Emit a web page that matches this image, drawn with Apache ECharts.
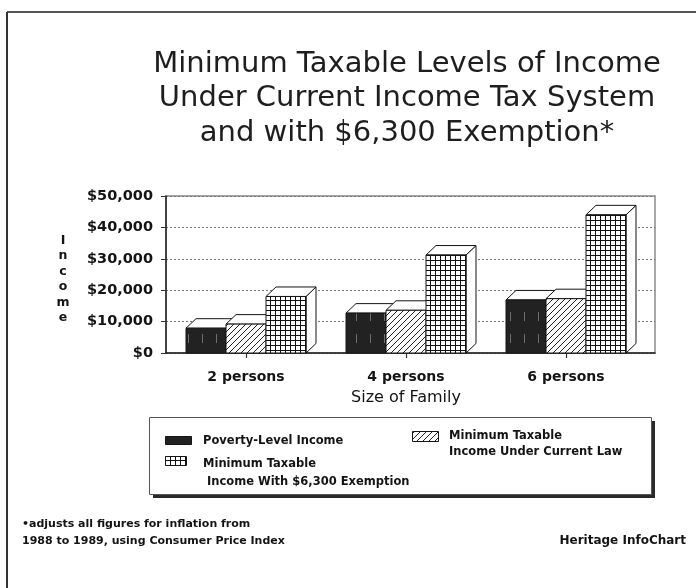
<!DOCTYPE html>
<html>
<head>
<meta charset="utf-8">
<script src="https://cdn.jsdelivr.net/npm/echarts@6/dist/echarts.min.js"></script>
<style>
  html, body { margin: 0; padding: 0; background: #fff; }
  #chart { width: 696px; height: 588px; }
</style>
</head>
<body>
<div id="chart"></div>
<script>
// ---- data ----
const TITLE_LINES = [
  'Minimum Taxable Levels of Income',
  'Under Current Income Tax System',
  'and with $6,300 Exemption*'
];
const CATEGORIES = ['2 persons', '4 persons', '6 persons'];
const SERIES_NAMES = [
  'Poverty-Level Income',
  'Minimum Taxable\nIncome Under Current Law',
  'Minimum Taxable\n Income With $6,300 Exemption'
];
const POVERTY = [7900, 12700, 16900];
const CURRENT_LAW = [9200, 13600, 17300];
const WITH_EXEMPTION = [18000, 31200, 44000];
const Y_MIN = 0;
const Y_MAX = 50000;
const Y_STEP = 10000;
const X_NAME = 'Size of Family';
const Y_NAME = 'Income';
const FOOTNOTE_LINES = [
  '\u2022adjusts all figures for inflation from',
  '1988 to 1989, using Consumer Price Index'
];
const SOURCE = 'Heritage InfoChart';

// ---- fills ----
function makeCanvas(w, h) {
  const c = document.createElement('canvas');
  c.width = w; c.height = h;
  return c;
}
function solidDark() {
  const c = makeCanvas(14, 22);
  const g = c.getContext('2d');
  g.fillStyle = '#222';
  g.fillRect(0, 0, 14, 22);
  g.fillStyle = '#6e6e6e';
  g.fillRect(6, 4, 1, 9);
  return { image: c, repeat: 'repeat' };
}
function diagonalHatch() {
  const s = 6;
  const c = makeCanvas(s, s);
  const g = c.getContext('2d');
  g.fillStyle = '#fff';
  g.fillRect(0, 0, s, s);
  g.strokeStyle = '#222';
  g.lineWidth = 1;
  g.beginPath();
  g.moveTo(-1, s + 1); g.lineTo(s + 1, -1);
  g.moveTo(-1, 1); g.lineTo(1, -1);
  g.moveTo(s - 1, s + 1); g.lineTo(s + 1, s - 1);
  g.stroke();
  return { image: c, repeat: 'repeat' };
}
function squareGrid() {
  const s = 5;
  const c = makeCanvas(s, s);
  const g = c.getContext('2d');
  g.fillStyle = '#fff';
  g.fillRect(0, 0, s, s);
  g.fillStyle = '#111';
  g.fillRect(0, 0, 1, s);
  g.fillRect(0, 0, s, 1);
  return { image: c, repeat: 'repeat' };
}
const FILLS = [solidDark(), diagonalHatch(), squareGrid()];

// ---- 3D box bars ----
const BAR_FRAC = 0.25;   // bar width as a share of the category band
const DEPTH_X = 10;
const DEPTH_Y = 9.5;
const EDGE = '#151515';

function renderBox(params, api) {
  const k = params.seriesIndex;
  const cat = api.value(0);
  const val = api.value(1);
  const top = api.coord([cat, val]);
  const base = api.coord([cat, 0]);
  const band = api.size([1, 0])[0];
  const w = band * BAR_FRAC;
  const x0 = top[0] + (k - 1.5) * w;
  const x1 = x0 + w;
  const yt = top[1];
  const yb = base[1];
  const lineStyle = { stroke: EDGE, lineWidth: 1 };
  return {
    type: 'group',
    children: [
      {
        type: 'polygon',
        shape: { points: [[x1, yt], [x1 + DEPTH_X, yt - DEPTH_Y], [x1 + DEPTH_X, yb - DEPTH_Y], [x1, yb]] },
        style: Object.assign({ fill: '#fff' }, lineStyle)
      },
      {
        type: 'polygon',
        shape: { points: [[x0, yt], [x0 + DEPTH_X, yt - DEPTH_Y], [x1 + DEPTH_X, yt - DEPTH_Y], [x1, yt]] },
        style: Object.assign({ fill: '#fff' }, lineStyle)
      },
      {
        type: 'rect',
        shape: { x: x0, y: yt, width: w, height: yb - yt },
        style: Object.assign({ fill: FILLS[k] }, lineStyle)
      }
    ]
  };
}

const VALUES = [POVERTY, CURRENT_LAW, WITH_EXEMPTION];
const series = VALUES.map((vals, k) => ({
  type: 'custom',
  name: SERIES_NAMES[k],
  xAxisIndex: 1,
  yAxisIndex: 1,
  renderItem: renderBox,
  encode: { x: 0, y: 1 },
  data: vals.map((v, i) => [i, v]),
  z: 3
}));

// ---- text styles ----
const BOLD = 'DejaVu Sans';
const INK = '#141414';

// ---- legend (drawn as graphic) ----
const LEGEND_SLOTS = [
  { sx: 165, sy: 436, sw: 26, sh: 8, tx: 203, ty: 433, lh: 16 },
  { sx: 412, sy: 431, sw: 26, sh: 10, tx: 449, ty: 428, lh: 16 },
  { sx: 165, sy: 456, sw: 21, sh: 9, tx: 203, ty: 455, lh: 18 }
];
const legendGraphics = [
  { type: 'rect', shape: { x: 153, y: 421, width: 502, height: 77 }, style: { fill: '#2a2a2a' }, z: 10 },
  { type: 'rect', shape: { x: 149.5, y: 417.5, width: 502, height: 77 }, style: { fill: '#fff', stroke: '#555', lineWidth: 1 }, z: 11 }
];
SERIES_NAMES.forEach((name, k) => {
  const s = LEGEND_SLOTS[k];
  legendGraphics.push({
    type: 'rect',
    shape: { x: s.sx + 0.5, y: s.sy + 0.5, width: s.sw, height: s.sh },
    style: { fill: FILLS[k], stroke: EDGE, lineWidth: 1 },
    z: 12
  });
  legendGraphics.push({
    type: 'text',
    x: s.tx, y: s.ty,
    style: {
      text: name, fill: INK, font: 'bold 11.5px "' + BOLD + '"',
      lineHeight: s.lh, textAlign: 'left', textVerticalAlign: 'top'
    },
    z: 12
  });
});

const chart = echarts.init(document.getElementById('chart'), null, { renderer: 'canvas' });

chart.setOption({
  backgroundColor: '#fff',
  animation: false,
  grid: [
    { left: 166, right: 41, top: 196, bottom: 235, show: true, borderColor: '#8a8a8a', borderWidth: 1.5, backgroundColor: 'transparent' },
    { left: 166, right: 50, top: 196, bottom: 235 }
  ],
  xAxis: [
    {
      gridIndex: 0, type: 'value', min: 0, max: 1,
      axisLine: { show: true, lineStyle: { color: '#222', width: 1.5 } },
      axisTick: { show: false }, axisLabel: { show: false }, splitLine: { show: false }
    },
    {
      gridIndex: 1, type: 'category', data: CATEGORIES,
      axisLine: { show: false },
      axisTick: { show: true, alignWithLabel: true, length: 5, lineStyle: { color: '#333', width: 1.2 } },
      axisLabel: { margin: 17, fontFamily: BOLD, fontWeight: 'bold', fontSize: 14, color: INK },
      name: X_NAME, nameLocation: 'middle', nameGap: 45,
      nameTextStyle: { fontFamily: BOLD, fontSize: 16, color: INK, verticalAlign: 'middle' }
    }
  ],
  yAxis: [
    {
      gridIndex: 0, type: 'value', min: Y_MIN, max: Y_MAX, interval: Y_STEP,
      axisLine: { show: true, lineStyle: { color: '#222', width: 1.5 } },
      axisTick: { show: true, length: 5, lineStyle: { color: '#333' } },
      axisLabel: {
        margin: 13, fontFamily: BOLD, fontWeight: 'bold', fontSize: 14.5, color: INK,
        formatter: v => '$' + v.toLocaleString('en-US')
      },
      splitLine: { show: true, lineStyle: { color: '#777', type: [2, 2], width: 1 } }
    },
    { gridIndex: 1, type: 'value', min: Y_MIN, max: Y_MAX, interval: Y_STEP, show: false }
  ],
  series: series,
  graphic: [
    // page frame
    { type: 'line', shape: { x1: 7, y1: 12, x2: 696, y2: 12 }, style: { stroke: '#555', lineWidth: 2 } },
    { type: 'line', shape: { x1: 7, y1: 12, x2: 7, y2: 588 }, style: { stroke: '#333', lineWidth: 2 } },
    // title
    ...TITLE_LINES.map((t, i) => ({
      type: 'text', x: 407, y: 64 + i * 34.5,
      style: { text: t, fill: '#1e1e1e', font: '29px "DejaVu Sans"', textAlign: 'center', textVerticalAlign: 'middle' }
    })),
    // vertical axis name
    {
      type: 'text', x: 63, y: 279,
      style: {
        text: Y_NAME.split('').join('\n'), fill: INK, font: 'bold 12.5px "' + BOLD + '"',
        lineHeight: 15.5, textAlign: 'center', textVerticalAlign: 'middle'
      }
    },
    ...legendGraphics,
    // footnote and source
    {
      type: 'text', x: 22, y: 516,
      style: { text: FOOTNOTE_LINES.join('\n'), fill: INK, font: 'bold 11px "' + BOLD + '"', lineHeight: 17, textAlign: 'left', textVerticalAlign: 'top' }
    },
    {
      type: 'text', x: 686, y: 541,
      style: { text: SOURCE, fill: INK, font: 'bold 12px "' + BOLD + '"', textAlign: 'right', textVerticalAlign: 'middle' }
    }
  ]
});
</script>
</body>
</html>
